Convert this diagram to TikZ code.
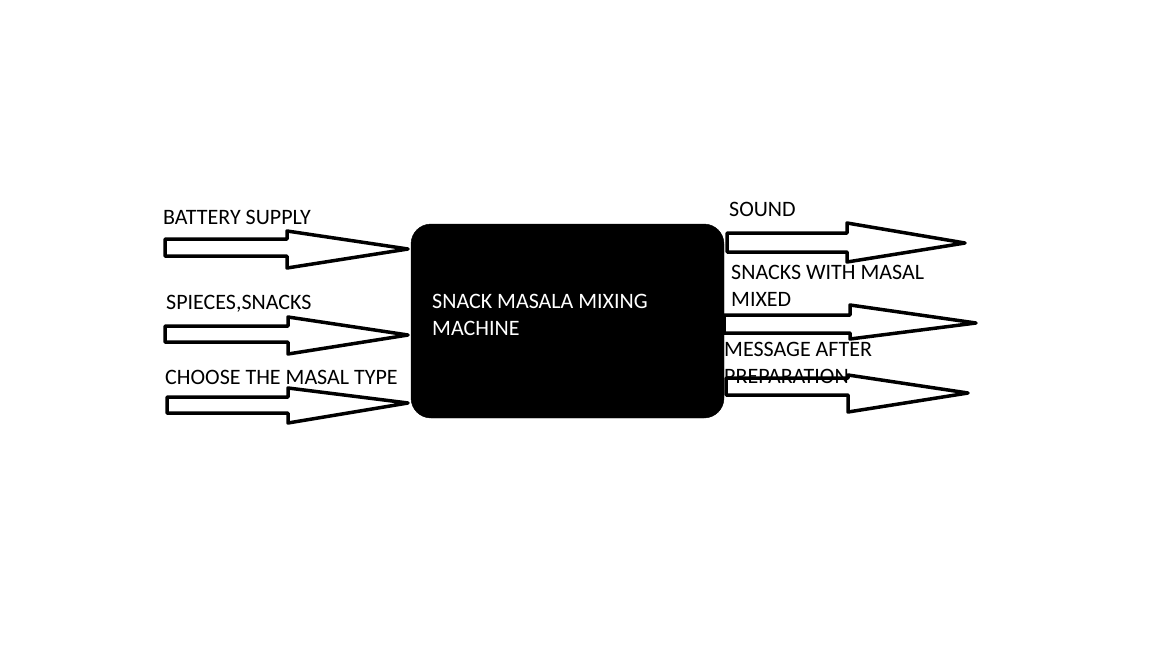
\documentclass[tikz,border=0pt]{standalone}
\usepackage{fontspec}
\setmainfont{Carlito}
\begin{document}
\begin{tikzpicture}[x=1pt,y=-1pt,
    lbl/.style={anchor=west,inner sep=0pt,align=left,font=\fontsize{22}{27}\selectfont},
    barrow/.style={draw=black,line width=3.5pt,line join=round,fill=white}]
        \useasboundingbox (0,0) rectangle (1152,648);
        % machine
        \node [draw=black,fill=black,rounded corners=20pt,minimum width=313pt,minimum height=194pt,inner sep=0pt] (mach) at (567.5,321) {};
        \node [lbl,text=white] (mtxt) at (432,315) {SNACK MASALA MIXING\\MACHINE};
        % inputs
        \draw [barrow] (165,239) -- (287,239) -- (287,231) -- (408,249) -- (287,268) -- (287,256) -- (165,256) -- cycle;
        \draw [barrow] (165,326) -- (288,326) -- (288,317) -- (408,335) -- (288,354) -- (288,342) -- (165,342) -- cycle;
        \draw [barrow] (167,397) -- (288,397) -- (288,388) -- (408,403) -- (288,423) -- (288,413) -- (167,413) -- cycle;
        \node [lbl] (batt) at (163,217) {BATTERY SUPPLY};
        \node [lbl] (spice) at (166,304) {SPIECES,SNACKS};
        \node [lbl] (choose) at (165,377) {CHOOSE THE MASAL TYPE};
        % outputs
        \draw [barrow] (727,233) -- (847,233) -- (847,223) -- (965,243) -- (847,262) -- (847,252) -- (727,252) -- cycle;
        \draw [barrow] (724,315) -- (850,315) -- (850,305) -- (976,323) -- (850,339) -- (850,333) -- (724,333) -- cycle;
        \draw [barrow] (726,378) -- (848,378) -- (848,375) -- (968,393) -- (848,412) -- (848,395) -- (726,395) -- cycle;
        \node [lbl] (sound) at (729,209) {SOUND};
        \node [lbl] (mixed) at (731,286) {SNACKS WITH MASAL\\MIXED};
        \node [lbl] (msg) at (724,363) {MESSAGE AFTER\\PREPARATION};
\end{tikzpicture}
\end{document}
